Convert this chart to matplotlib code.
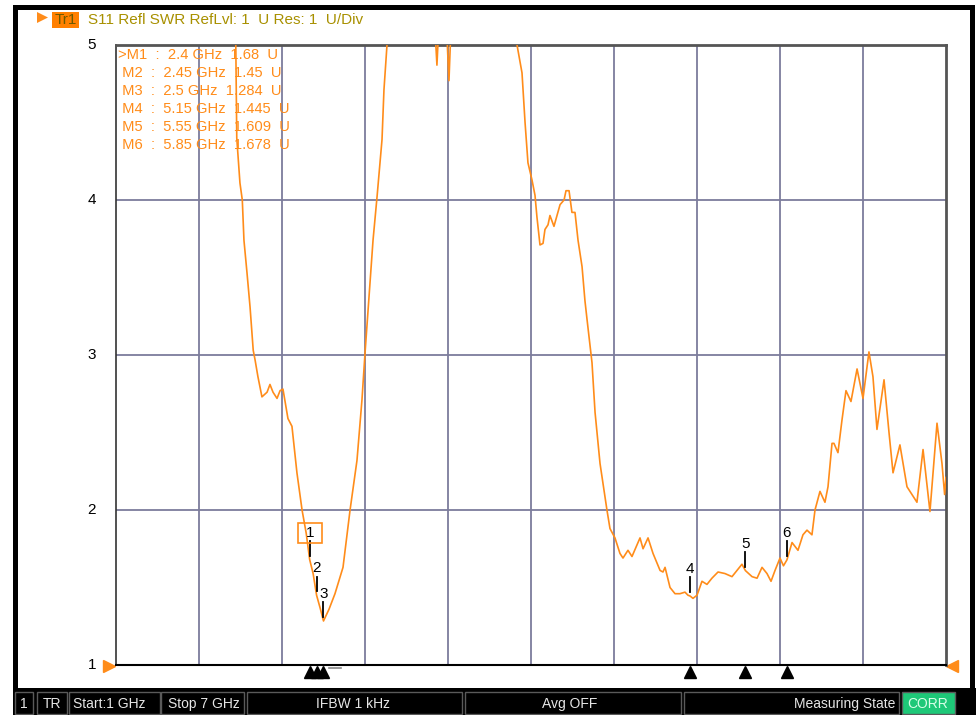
import matplotlib.pyplot as plt
from matplotlib.patches import Rectangle, Polygon
from matplotlib.lines import Line2D

# S11 SWR trace, 1-7 GHz sweep
freq_ghz = [
    1.00, 1.30, 1.60, 1.80, 1.866, 1.873, 1.896, 1.913, 1.925, 1.947,
    1.969, 1.992, 2.005, 2.026,
    2.055, 2.092, 2.113, 2.135, 2.164, 2.186, 2.207, 2.243, 2.272, 2.308,
    2.345, 2.375, 2.40, 2.425, 2.45, 2.475, 2.50, 2.54, 2.583, 2.641,
    2.692, 2.742, 2.778, 2.800, 2.858, 2.887, 2.923, 2.937, 2.959, 3.05,
    3.20, 3.30, 3.320, 3.335, 3.39, 3.407, 3.425, 3.63, 3.85, 3.899,
    3.935, 3.957, 3.978, 4.007, 4.029, 4.043, 4.065, 4.087, 4.101, 4.123,
    4.137, 4.166, 4.188, 4.210, 4.239, 4.253, 4.275, 4.296, 4.318, 4.340,
    4.369, 4.390, 4.405, 4.441, 4.463, 4.499, 4.549, 4.571, 4.607, 4.643,
    4.665, 4.701, 4.730, 4.788, 4.810, 4.846, 4.882, 4.933, 4.954, 4.969,
    5.005, 5.041, 5.077, 5.113, 5.135, 5.15, 5.171, 5.200, 5.236, 5.272,
    5.308, 5.352, 5.402, 5.453, 5.489, 5.525, 5.55, 5.598, 5.634, 5.670,
    5.706, 5.735, 5.764, 5.800, 5.825, 5.85, 5.887, 5.930, 5.966, 5.995,
    6.031, 6.053, 6.089, 6.125, 6.147, 6.176, 6.190, 6.219, 6.248, 6.277,
    6.313, 6.357, 6.400, 6.443, 6.472, 6.501, 6.552, 6.588, 6.617, 6.667,
    6.718, 6.790, 6.834, 6.884, 6.935, 6.971, 6.99, 7.00,
]
swr = [
    9.0, 8.0, 6.8, 5.5, 5.0, 4.4, 4.11, 4.0, 3.74, 3.53,
    3.31, 3.03, 2.97, 2.86,
    2.73, 2.76, 2.81, 2.76, 2.72, 2.77, 2.78, 2.59, 2.54, 2.24,
    2.00, 1.85, 1.68, 1.59, 1.45, 1.37, 1.284, 1.36, 1.46, 1.63,
    2.00, 2.32, 2.71, 3.01, 3.74, 4.02, 4.39, 4.71, 5.00, 5.8,
    6.2, 5.2, 4.87, 5.15, 5.1, 4.77, 5.2, 6.0, 5.4, 5.00,
    4.82, 4.50, 4.24, 4.13, 4.03, 3.89, 3.71, 3.72, 3.81, 3.84,
    3.90, 3.83, 3.90, 3.97, 4.00, 4.06, 4.06, 3.92, 3.92, 3.74,
    3.57, 3.35, 3.23, 2.95, 2.63, 2.30, 2.00, 1.88, 1.82, 1.72,
    1.69, 1.74, 1.70, 1.82, 1.75, 1.82, 1.72, 1.61, 1.60, 1.63,
    1.50, 1.46, 1.46, 1.47, 1.45, 1.445, 1.43, 1.45, 1.54, 1.52,
    1.56, 1.60, 1.59, 1.57, 1.61, 1.65, 1.609, 1.57, 1.56, 1.63,
    1.59, 1.54, 1.61, 1.69, 1.64, 1.678, 1.79, 1.74, 1.84, 1.87,
    1.84, 2.00, 2.12, 2.05, 2.15, 2.43, 2.43, 2.37, 2.58, 2.77,
    2.70, 2.91, 2.72, 3.02, 2.86, 2.52, 2.84, 2.50, 2.24, 2.42,
    2.15, 2.05, 2.39, 1.99, 2.56, 2.30, 2.10, 2.21,
]

marker_names = ["1", "2", "3", "4", "5", "6"]
marker_freq = [2.4, 2.45, 2.5, 5.15, 5.55, 5.85]
marker_swr = [1.68, 1.45, 1.284, 1.445, 1.609, 1.678]

y_ticks = [1, 2, 3, 4, 5]
x_grid = [1.0 + 0.6 * i for i in range(11)]

W, H = 976, 715
ORANGE = "#ff8c1a"
GRID = "#7c7c9c"


def fx(px):
    return px / W


def fy(py):
    return 1 - py / H


def frect(fig, x0, y0, x1, y1, **kw):
    fig.patches.append(Rectangle((fx(x0), fy(y1)), fx(x1) - fx(x0), fy(y0) - fy(y1),
                                 transform=fig.transFigure, **kw))


fig = plt.figure(figsize=(W / 100, H / 100), dpi=100)
fig.patch.set_facecolor("white")

# window frame
frect(fig, 13, 5, 975, 10, facecolor="black", edgecolor="none")
frect(fig, 13, 5, 18, 690, facecolor="black", edgecolor="none")
frect(fig, 970, 5, 975, 690, facecolor="black", edgecolor="none")

# header line
fig.patches.append(Polygon([(fx(37), fy(12)), (fx(37), fy(23)), (fx(48), fy(17.5))],
                           closed=True, transform=fig.transFigure,
                           facecolor=ORANGE, edgecolor="none"))
frect(fig, 52, 12, 79, 28, facecolor="#ff8000", edgecolor="none")
fig.text(fx(65.5), fy(20), "Tr1", color="#6b5a00", fontsize=11,
         ha="center", va="center", family="Liberation Sans")
fig.text(fx(88), fy(20), "S11 Refl SWR RefLvl: 1  U Res: 1  U/Div", color="#a89000",
         fontsize=11, ha="left", va="center", family="Liberation Sans")

# plot area
ax = fig.add_axes([fx(116), fy(665), fx(946) - fx(116), fy(45) - fy(665)])
ax.set_xlim(1, 7)
ax.set_ylim(1, 5)
for xv in x_grid[1:-1]:
    ax.axvline(xv, color=GRID, lw=1.3, zorder=1)
for yv in y_ticks[1:-1]:
    ax.axhline(yv, color=GRID, lw=1.3, zorder=1)
ax.set_xticks([])
ax.set_yticks([])
for side in ["top", "right"]:
    ax.spines[side].set_color("#555555")
    ax.spines[side].set_linewidth(2)
ax.spines["left"].set_color("#333333")
ax.spines["left"].set_linewidth(1.2)
ax.spines["bottom"].set_color("black")
ax.spines["bottom"].set_linewidth(1.5)

ax.plot(freq_ghz, swr, color=ORANGE, lw=1.2, zorder=3)

for yv in y_ticks:
    fig.text(fx(92), fy(45 + (5 - yv) * 155), str(yv), fontsize=11,
             ha="center", va="center", color="black", family="Liberation Sans")

# marker ticks and numbers
for name, f, v in zip(marker_names, marker_freq, marker_swr):
    ax.plot([f, f], [v + 0.025, v + 0.12], color="black", lw=1.3, zorder=4)
    ax.annotate(name, (f, v), xytext=(0, 27), textcoords="offset pixels",
                ha="center", va="center", fontsize=11, color="black",
                family="Liberation Sans", zorder=5)
    ax.plot([f], [-0.011], marker="^", color="black", markersize=8,
            transform=ax.get_xaxis_transform(), clip_on=False, zorder=5)

# active marker box
m1y = 45 + (5 - marker_swr[0]) * 155
x1px = 116 + (marker_freq[0] - 1) / 6 * 830
fig.patches.append(Rectangle((fx(x1px - 12), fy(m1y - 17)), 24 / W, 20 / H,
                             transform=fig.transFigure, facecolor="none",
                             edgecolor=ORANGE, lw=1.2))
fig.lines.append(Line2D([fx(329), fx(341)], [fy(668), fy(668)], color="#888888",
                        lw=1.2, transform=fig.transFigure))

# reference level arrows
ax.plot([-0.0084], [-0.002], marker=">", color=ORANGE, markersize=8,
        transform=ax.transAxes, clip_on=False)
ax.plot([1.0072], [-0.002], marker="<", color=ORANGE, markersize=8,
        transform=ax.transAxes, clip_on=False)

# marker table
rows = [">M1  :  2.4 GHz  1.68  U", " M2  :  2.45 GHz  1.45  U",
        " M3  :  2.5 GHz  1.284  U", " M4  :  5.15 GHz  1.445  U",
        " M5  :  5.55 GHz  1.609  U", " M6  :  5.85 GHz  1.678  U"]
for i, row in enumerate(rows):
    fig.text(fx(118), fy(55 + 18 * i), row, color=ORANGE, fontsize=10.6,
             ha="left", va="center", family="Liberation Sans")

# status bar
frect(fig, 13, 688, 976, 715, facecolor="black", edgecolor="none")
boxes = [(15, 33), (37, 67), (69, 160), (161, 244), (247, 462), (465, 681), (684, 899)]
for x0, x1 in boxes:
    frect(fig, x0, 692, x1, 714, facecolor="black", edgecolor="#5a5a5a", lw=1)
frect(fig, 902, 692, 955, 714, facecolor="#1ec878", edgecolor="#5a5a5a", lw=1)
status = [(24, "1", "center"), (52, "TR", "center"), (73, "Start:1 GHz", "left"),
          (168, "Stop 7 GHz", "left"), (353, "IFBW 1 kHz", "center"),
          (570, "Avg OFF", "center"), (895, "Measuring State", "right")]
for x, txt, ha in status:
    fig.text(fx(x), fy(704), txt, color="#e6e6e6", fontsize=10, ha=ha,
             va="center", family="Liberation Sans")
fig.text(fx(928), fy(704), "CORR", color="#d8ffe8", fontsize=10, ha="center",
         va="center", family="Liberation Sans")

fig.savefig("out.png", dpi=100)
